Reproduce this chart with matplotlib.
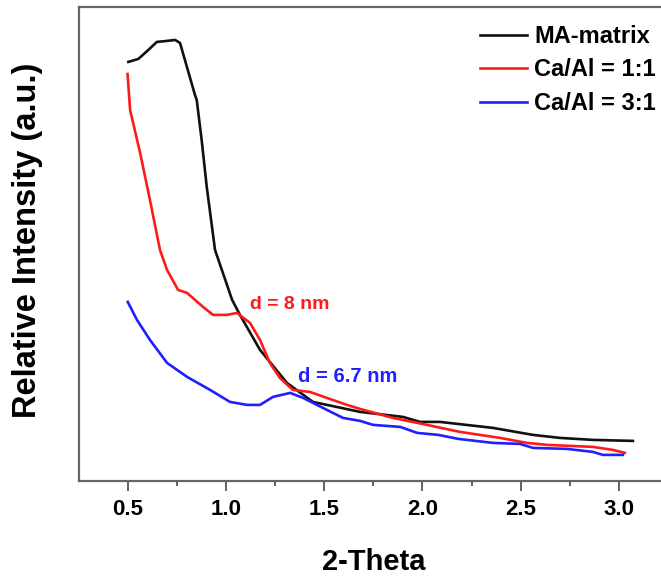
import matplotlib
matplotlib.use("Agg")
import matplotlib.pyplot as plt
from matplotlib.ticker import MultipleLocator

# values (intensity in arbitrary units)
ma_theta = [0.504, 0.555, 0.606, 0.649, 0.699, 0.742, 0.767, 0.843, 0.852, 0.877, 0.903,
            0.945, 1.032, 1.072, 1.174, 1.311, 1.443, 1.683, 1.901, 1.988, 2.089, 2.359,
            2.563, 2.700, 2.868, 3.071]
ma_int = [418, 421, 430, 438, 439, 440, 437, 385, 380, 340, 293,
          230, 180, 165, 130, 97, 78, 68, 63, 58, 58, 52,
          45, 42, 40, 39]

ca11_theta = [0.500, 0.513, 0.564, 0.614, 0.665, 0.701, 0.757, 0.803, 0.884, 0.935, 1.006,
              1.057, 1.123, 1.174, 1.224, 1.275, 1.341, 1.428, 1.514, 1.616, 1.683, 1.850,
              2.024, 2.191, 2.395, 2.532, 2.634, 2.868, 2.969, 3.030]
ca11_int = [406, 370, 327, 280, 230, 210, 190, 187, 173, 165, 165,
            167, 157, 140, 117, 102, 90, 88, 82, 75, 71, 62,
            55, 48, 42, 37, 35, 33, 30, 27]

ca31_theta = [0.501, 0.548, 0.614, 0.701, 0.803, 0.920, 1.021, 1.108, 1.174, 1.240, 1.327,
              1.393, 1.494, 1.596, 1.683, 1.749, 1.887, 1.974, 2.081, 2.183, 2.359, 2.496,
              2.563, 2.736, 2.868, 2.918, 3.020]
ca31_int = [178, 160, 140, 117, 103, 90, 78, 75, 75, 83, 87,
            82, 72, 62, 59, 55, 53, 47, 45, 41, 37, 36,
            32, 31, 28, 25, 25]

labels = ["MA-matrix", "Ca/Al = 1:1", "Ca/Al = 3:1"]
colors = ["#111111", "#ff1a1a", "#2020ff"]
xticks = [0.5, 1.0, 1.5, 2.0, 2.5, 3.0]

plt.rcParams["font.family"] = ["Liberation Sans", "DejaVu Sans"]
plt.rcParams["font.weight"] = "bold"

fig = plt.figure(figsize=(6.61, 5.78), dpi=100)
ax = fig.add_axes([0.1195, 0.168, 0.8805, 0.820])

series = [(ma_theta, ma_int), (ca11_theta, ca11_int), (ca31_theta, ca31_int)]
for (x, y), lab, c in zip(series, labels, colors):
    ax.plot(x, y, color=c, lw=1.9, label=lab)

ax.set_xlim(0.253, 3.214)
ax.set_ylim(-1, 473)

ax.text(1.123, 175, "d = 8 nm", color=colors[1], fontsize=14, fontweight="bold", va="center")
ax.text(1.367, 103, "d = 6.7 nm", color=colors[2], fontsize=14.5, fontweight="bold", va="center")

ax.set_xticks(xticks)
ax.xaxis.set_minor_locator(MultipleLocator(0.25))
ax.set_yticks([])
ax.tick_params(axis="x", which="major", direction="out", length=7, width=1.3,
               color="#555555", labelsize=16, pad=6)
ax.tick_params(axis="x", which="minor", direction="out", length=3.5, width=1.3,
               color="#555555")
for lbl in ax.get_xticklabels():
    lbl.set_fontweight("bold")

for side in ["left", "top", "bottom"]:
    ax.spines[side].set_color("#666666")
    ax.spines[side].set_linewidth(1.6)
ax.spines["right"].set_visible(False)

ax.set_xlabel("2-Theta", fontsize=21, fontweight="bold")
ax.xaxis.set_label_coords(0.507, -0.141)
ax.set_ylabel("Relative Intensity (a.u.)", fontsize=23.5, fontweight="bold")
ax.yaxis.set_label_coords(-0.062, 0.508)

ax.legend(loc="upper left", bbox_to_anchor=(0.726, 0.957), bbox_transform=fig.transFigure,
          frameon=False, fontsize=17, handlelength=2.0, handletextpad=0.3,
          labelspacing=0.45, borderpad=0, borderaxespad=0)

fig.savefig("out.png", dpi=100)
